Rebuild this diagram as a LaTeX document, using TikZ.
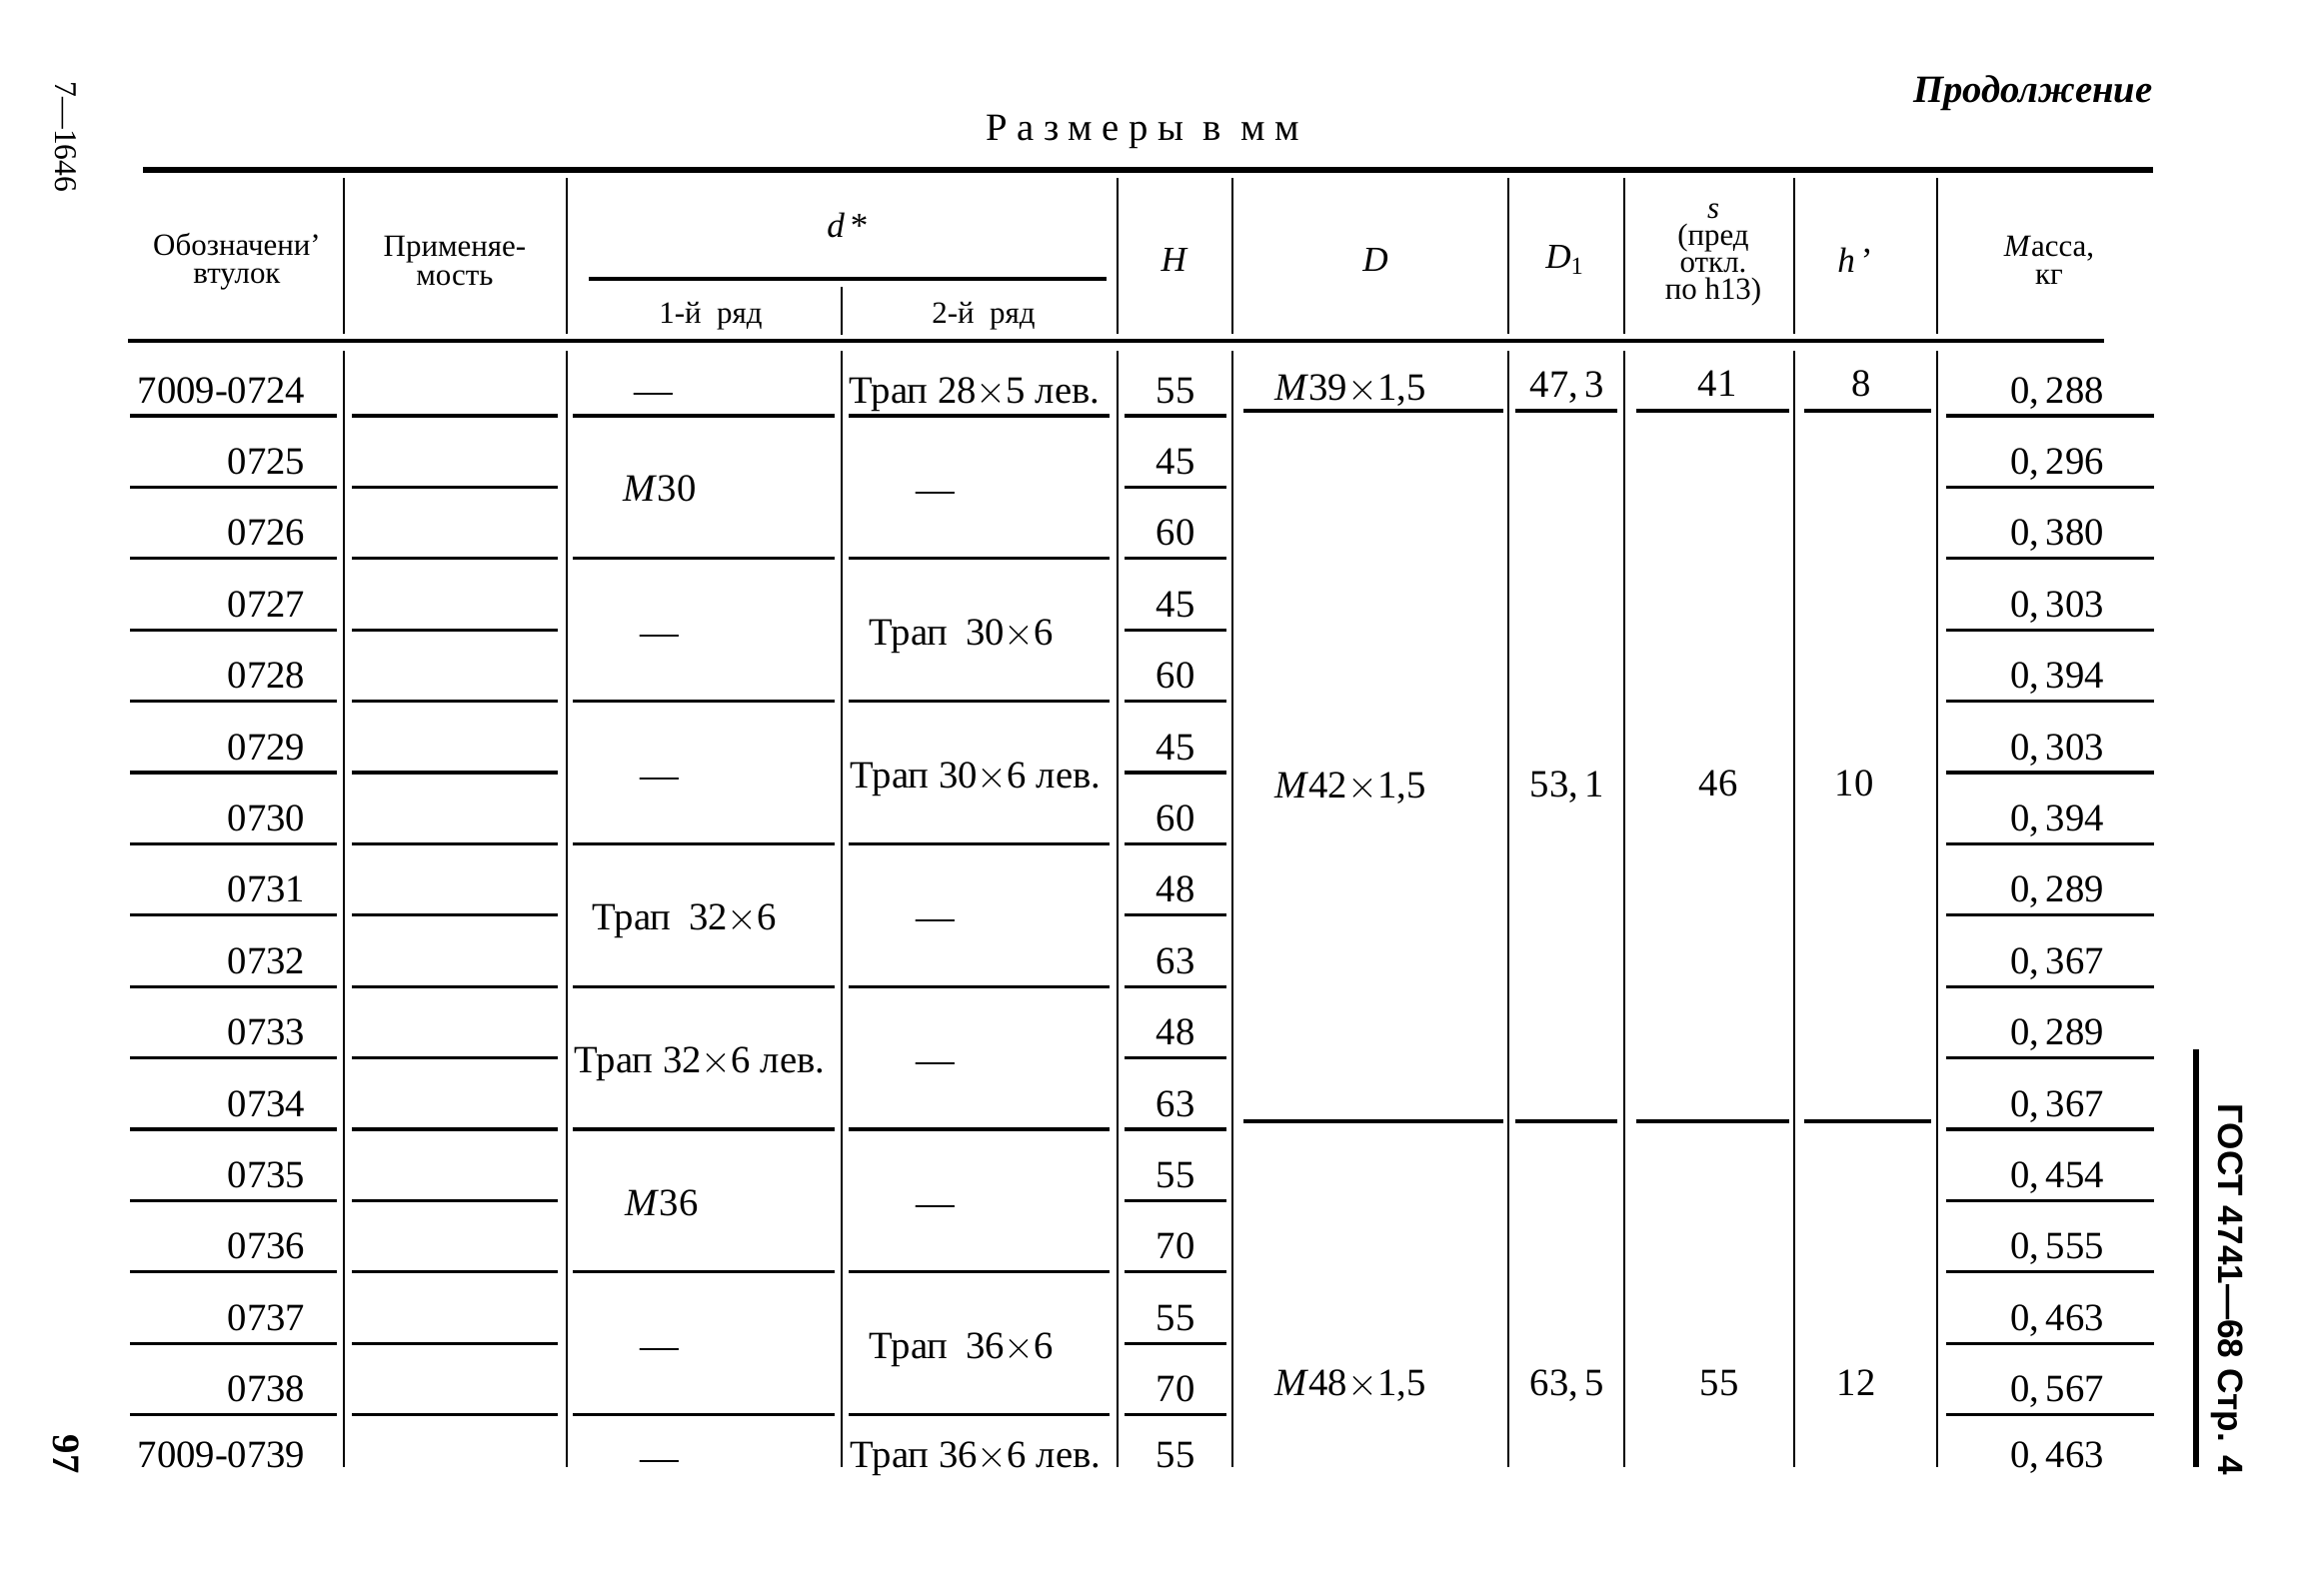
\documentclass[tikz,border=0pt]{standalone}
\usepackage{fontspec}
\setmainfont{Liberation Serif}
\newfontfamily\gostfont{Liberation Sans}
\newcommand{\tms}{\(\times\)}
\begin{document}
\begin{tikzpicture}[x=0.01cm,y=-0.01cm,
  tline/.style={line width=0.9pt},
  vline/.style={line width=0.8pt},
  cell/.style={inner sep=0pt,anchor=base,font=\fontsize{11}{13}\selectfont},
  hdr/.style={inner sep=0pt,align=center,font=\fontsize{8.8}{8}\selectfont},
  hsym/.style={inner sep=0pt,font=\fontsize{10}{12}\selectfont}]
\useasboundingbox (0,0) rectangle (2316,1596);
\fill[white] (0,0) rectangle (2316,1596);

% titles and margin texts
\node[inner sep=0pt,anchor=base east,font=\fontsize{11}{13}\selectfont\bfseries\itshape] (cont) at (2154,102) {Продолжение};
\node[inner sep=0pt,anchor=base,font=\fontsize{11}{13}\selectfont\addfontfeatures{LetterSpace=25}] (title) at (1143,140) {Размеры в мм};
\node[inner sep=0pt,rotate=-90,font=\fontsize{9}{10}\selectfont] (sig) at (66,137) {7—1646};
\node[inner sep=0pt,rotate=-90,font=\fontsize{11}{13}\selectfont\bfseries] (pg) at (66,1455) {97};
\node[inner sep=0pt,rotate=-90,font=\gostfont\bfseries\fontsize{10}{12}\selectfont] (gost) at (2228,1290) {ГОСТ 4741—68 Стр. 4};
\draw[line width=1.5pt] (2197,1050) -- (2197,1468);

% header rules
\draw[line width=1.6pt] (143,170) -- (2154,170);
\draw[line width=1.2pt] (128,341) -- (2105,341);
\draw[tline] (589,279) -- (1107,279);
\draw[vline] (842,287) -- (842,335);
\foreach \x in {344,567,1118,1233,1509,1625,1795,1938}
  \draw[vline] (\x,178) -- (\x,334);

% header texts
\node[hdr] (h1) at (237,262) {Обозначени’\\втулок};
\node[hdr] (h2) at (455,261) {Применяе-\\мость};
\node[hsym] (h3) at (848,225) {\textit{d}\,*};
\node[hdr] (h31) at (711,316) {1-й\ \ ряд};
\node[hdr] (h32) at (984,316) {2-й\ \ ряд};
\node[hsym] (hH) at (1175,260) {\textit{H}};
\node[hsym] (hD) at (1376,260) {\textit{D}};
\node[hsym] (hD1) at (1566,260) {\textit{D}\textsubscript{1}};
\node[hdr,font=\fontsize{8.8}{7.6}\selectfont] (hs) at (1714,255) {\textit{s}\\(пред\\откл.\\по h13)};
\node[hsym] (hh) at (1856,260) {\textit{h}\,’};
\node[hdr] (hm) at (2050,260) {\textit{М}асса,\\кг};

% body vertical lines
\foreach \x in {344,567,842,1118,1233,1509,1625,1795,1938}
  \draw[vline] (\x,351) -- (\x,1468);

% row lines (every row)
\foreach \i in {1,...,15} {
  \pgfmathsetmacro\ly{416+(\i-1)*71.4}
  \draw[tline] (130,\ly) -- (337,\ly);
  \draw[tline] (352,\ly) -- (558,\ly);
  \draw[tline] (1125,\ly) -- (1227,\ly);
  \draw[tline] (1947,\ly) -- (2155,\ly);
}
% group lines in d columns
\foreach \i in {1,3,5,7,9,11,13,15} {
  \pgfmathsetmacro\ly{416+(\i-1)*71.4}
  \draw[tline] (573,\ly) -- (835,\ly);
  \draw[tline] (849,\ly) -- (1110,\ly);
}
% group lines in D, D1, s, h columns
\foreach \ly in {411,1122} {
  \draw[tline] (1244,\ly) -- (1504,\ly);
  \draw[tline] (1516,\ly) -- (1618,\ly);
  \draw[tline] (1637,\ly) -- (1790,\ly);
  \draw[tline] (1805,\ly) -- (1932,\ly);
}

% column 1
\foreach \t [count=\i] in {7009-0724,0725,0726,0727,0728,0729,0730,0731,0732,0733,0734,0735,0736,0737,0738,7009-0739} {
  \pgfmathsetmacro\yy{\i<16 ? 391+(\i-1)*71.4 : 1456}
  \node[cell,anchor=base east] (a\i) at (306,{\yy+12}) {\t};
}
% H column
\foreach \h [count=\i] in {55,45,60,45,60,45,60,48,63,48,63,55,70,55,70,55} {
  \pgfmathsetmacro\yy{\i<16 ? 391+(\i-1)*71.4 : 1456}
  \node[cell] (H\i) at (1176,{\yy+12}) {\h};
}
% mass column
\foreach \m [count=\i] in {{0,\,288},{0,\,296},{0,\,380},{0,\,303},{0,\,394},{0,\,303},{0,\,394},{0,\,289},{0,\,367},{0,\,289},{0,\,367},{0,\,454},{0,\,555},{0,\,463},{0,\,567},{0,\,463}} {
  \pgfmathsetmacro\yy{\i<16 ? 391+(\i-1)*71.4 : 1456}
  \node[cell] (m\i) at (2058,{\yy+12}) {\m};
}

% d, 1st row column
\node[cell] (p1) at (654,403) {—};
\node[cell] (p2) at (660,501) {\textit{M}30};
\node[cell] (p3) at (660,645) {—};
\node[cell] (p4) at (660,788) {—};
\node[cell] (p5) at (685,930) {Трап\hskip5pt 32\tms 6};
\node[cell] (p6) at (700,1073) {Трап 32\tms 6 лев.};
\node[cell] (p7) at (662,1216) {\textit{M}36};
\node[cell] (p8) at (660,1359) {—};
\node[cell] (p9) at (660,1471) {—};
% d, 2nd row column
\node[cell] (q1) at (975,403) {Трап 28\tms 5 лев.};
\node[cell] (q2) at (936,502) {—};
\node[cell] (q3) at (962,645) {Трап\hskip5pt 30\tms 6};
\node[cell] (q4) at (976,788) {Трап 30\tms 6 лев.};
\node[cell] (q5) at (936,930) {—};
\node[cell] (q6) at (936,1073) {—};
\node[cell] (q7) at (936,1216) {—};
\node[cell] (q8) at (962,1359) {Трап\hskip5pt 36\tms 6};
\node[cell] (q9) at (976,1468) {Трап 36\tms 6 лев.};

% D, D1, s, h groups
\node[cell] (D1g) at (1351,400) {\textit{M}39\tms 1,5};
\node[cell] (D2g) at (1351,798) {\textit{M}42\tms 1,5};
\node[cell] (D3g) at (1351,1396) {\textit{M}48\tms 1,5};
\node[cell] (E1g) at (1568,397) {47,\,3};
\node[cell] (E2g) at (1568,797) {53,\,1};
\node[cell] (E3g) at (1568,1396) {63,\,5};
\node[cell] (S1g) at (1718,396) {41};
\node[cell] (S2g) at (1719,796) {46};
\node[cell] (S3g) at (1720,1396) {55};
\node[cell] (T1g) at (1862,396) {8};
\node[cell] (T2g) at (1855,796) {10};
\node[cell] (T3g) at (1857,1396) {12};
\end{tikzpicture}
\end{document}
